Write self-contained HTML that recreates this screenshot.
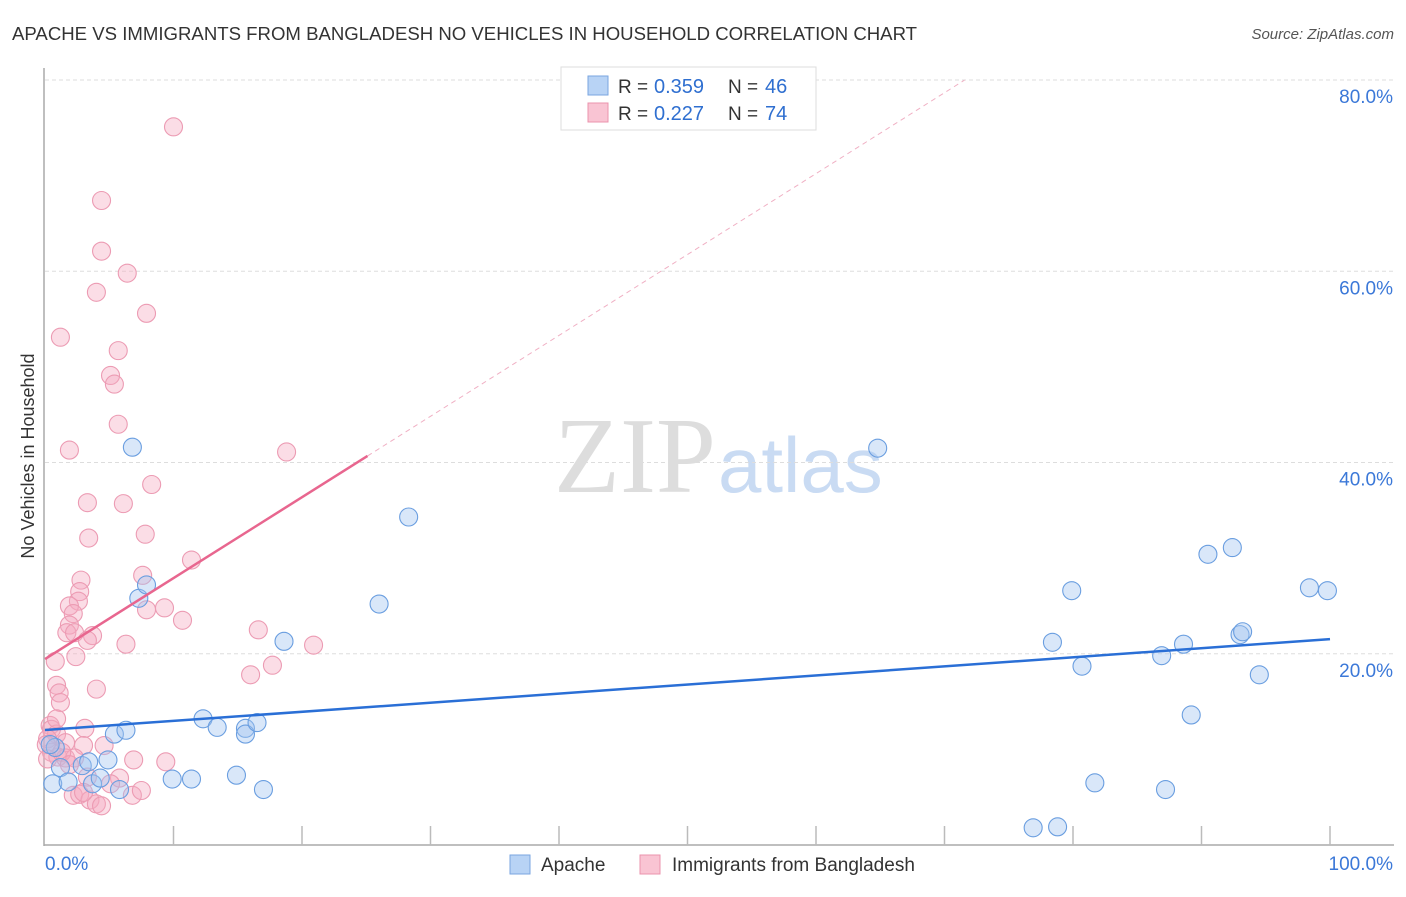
<!DOCTYPE html>
<html><head><meta charset="utf-8"><style>
body{margin:0;background:#fff;font-family:"Liberation Sans",sans-serif}
#c{position:relative;width:1406px;height:892px}
</style></head><body>
<div id="c">
<svg id="s" width="1406" height="892" xmlns="http://www.w3.org/2000/svg">
<text x="12" y="40" font-size="18.6" fill="#333">APACHE VS IMMIGRANTS FROM BANGLADESH NO VEHICLES IN HOUSEHOLD CORRELATION CHART</text>
<text x="1394" y="39" font-size="15" fill="#555" font-style="italic" text-anchor="end">Source: ZipAtlas.com</text>
<text x="0" y="0" transform="translate(34,456) rotate(-90)" font-size="18" fill="#333" text-anchor="middle">No Vehicles in Household</text>
<text x="716" y="492" font-size="108" font-family="Liberation Serif" fill="#ddd" text-anchor="end">ZIP</text>
<text x="718" y="492" font-size="78" fill="#c9dbf3">atlas</text>
<g id="grid"></g><g id="pts"></g><g id="lines"></g>
<rect x="561" y="67" width="255" height="63" fill="#fff" stroke="#ddd"/>
<rect x="588" y="76" width="20" height="19" fill="#b8d3f5" stroke="#7aa6e0"/>
<rect x="588" y="103" width="20" height="19" fill="#f9c4d3" stroke="#eb93ad"/>
<g font-size="19" fill="#333">
<text x="618" y="93">R = </text><text x="654" y="93" fill="#2f6fd0" font-size="20">0.359</text>
<text x="728" y="93">N = </text><text x="765" y="93" fill="#2f6fd0" font-size="20">46</text></g>
<g font-size="19" fill="#333">
<text x="618" y="120">R = </text><text x="654" y="120" fill="#2f6fd0" font-size="20">0.227</text>
<text x="728" y="120">N = </text><text x="765" y="120" fill="#2f6fd0" font-size="20">74</text></g>
<rect x="510" y="855" width="20" height="19" fill="#b8d3f5" stroke="#7aa6e0"/>
<text x="541" y="871" font-size="19" fill="#333">Apache</text>
<rect x="640" y="855" width="20" height="19" fill="#f9c4d3" stroke="#eb93ad"/>
<text x="672" y="871" font-size="19" fill="#333">Immigrants from Bangladesh</text>
</svg></div>
<script>
const yTicks=[20,40,60,80];
const yTickLabels=["20.0%","40.0%","60.0%","80.0%"];
const xTickLabels=["0.0%","100.0%"];
const apacheX=[0.6,1.2,0.8,1.8,2.9,3.4,3.7,4.3,4.9,5.4,6.3,5.8,7.3,7.9,6.8,9.9,11.4,12.3,13.4,14.9,15.6,15.6,16.5,17.0,18.6,26.0,28.3,64.8,76.9,78.8,78.4,79.9,80.7,81.7,86.9,87.2,88.6,89.2,90.5,92.4,93.0,93.2,94.5,98.4,99.8,0.4];
const apacheY=[6.4,8.1,10.2,6.6,8.3,8.7,6.4,7.0,8.9,11.6,12.0,5.8,25.8,27.2,41.6,6.9,6.9,13.2,12.3,7.3,12.2,11.6,12.8,5.8,21.3,25.2,34.3,41.5,1.8,1.9,21.2,26.6,18.7,6.5,19.8,5.8,21.0,13.6,30.4,31.1,22.0,22.3,17.8,26.9,26.6,10.5];
const bangX=[10.0,4.4,4.4,6.4,4.0,7.9,1.2,5.7,5.1,5.4,5.7,1.9,18.8,8.3,3.3,6.1,3.4,7.8,11.4,7.6,2.8,2.7,2.6,1.9,2.2,7.9,9.3,10.7,1.9,1.7,2.3,3.7,3.3,6.3,16.6,20.9,2.4,0.8,17.7,16.0,0.9,1.1,4.0,1.2,0.4,0.5,0.9,3.1,0.2,1.6,4.6,3.0,0.5,1.0,1.6,2.3,6.9,9.4,5.8,3.3,2.2,2.7,6.8,7.5,3.5,4.0,4.4,0.1,0.2,1.3,1.9,3.0,0.9,5.1];
const bangY=[75.1,67.4,62.1,59.8,57.8,55.6,53.1,51.7,49.1,48.2,44.0,41.3,41.1,37.7,35.8,35.7,32.1,32.5,29.8,28.2,27.7,26.5,25.5,25.0,24.2,24.6,24.8,23.5,23.0,22.2,22.2,21.9,21.4,21.0,22.5,20.9,19.7,19.2,18.8,17.8,16.7,15.9,16.3,14.9,12.5,12.1,11.6,12.2,11.1,10.7,10.4,10.4,9.7,9.2,9.1,9.1,8.9,8.7,7.0,7.1,5.2,5.3,5.2,5.7,4.7,4.3,4.1,10.5,9.0,9.7,8.4,5.5,13.2,6.4];
const apacheTrend=[12.03,21.53];
const bangTrend=[19.45,0.846,25.1];
const NS="http://www.w3.org/2000/svg";
const X=v=>45+v*12.85, Y=v=>845-v*9.5625;
function mk(t,a,p){const e=document.createElementNS(NS,t);for(const k in a)e.setAttribute(k,a[k]);p.appendChild(e);return e;}
const g=document.getElementById('grid');
let ax=mk('line',{x1:44,y1:68,x2:44,y2:846,stroke:'#aaa','stroke-width':1.5},g);


let bx=mk('line',{x1:44,y1:845,x2:1394,y2:845,stroke:'#aaa','stroke-width':1.5},g);


yTicks.forEach((t,i)=>{
 const l=mk('line',{x1:45,x2:1394,y1:Y(t),y2:Y(t),stroke:'#ddd','stroke-dasharray':'4,3'},g);
 
 
 const tx=mk('text',{x:1393,y:Y(t)+23,'font-size':19,fill:'#3b78d8','text-anchor':'end'},g);
 tx.textContent=yTickLabels[i];
 
 
});
for(let i=1;i<=10;i++){const l=mk('line',{x1:45+i*128.5,x2:45+i*128.5,y1:826,y2:845,stroke:'#bbb','stroke-width':1.5},g);
 
 }
[[45,'start'],[1393,'end']].forEach((p,i)=>{const tx=mk('text',{x:p[0],y:870,'font-size':19,fill:'#3b78d8','text-anchor':p[1]},g);tx.textContent=xTickLabels[i];
 
 });
const pg=document.getElementById('pts');
bangX.forEach((v,i)=>{const c=mk('circle',{cx:X(v),cy:Y(bangY[i]),r:9,fill:'rgba(245,170,192,0.4)',stroke:'#ec9bb3','stroke-width':1.1},pg);
 
 });
apacheX.forEach((v,i)=>{const c=mk('circle',{cx:X(v),cy:Y(apacheY[i]),r:9,fill:'rgba(160,195,240,0.4)',stroke:'#6a9ee0','stroke-width':1.1},pg);
 
 });
const lg=document.getElementById('lines');
let a=mk('line',{x1:X(0),y1:Y(apacheTrend[0]),x2:X(100),y2:Y(apacheTrend[1]),stroke:'#2a6fd6','stroke-width':2.5},lg);


const bf=v=>bangTrend[0]+bangTrend[1]*v;
let b=mk('line',{x1:X(0),y1:Y(bf(0)),x2:X(bangTrend[2]),y2:Y(bf(bangTrend[2])),stroke:'#e8668f','stroke-width':2.5},lg);


const xe=(80-bangTrend[0])/bangTrend[1];
let d=mk('line',{x1:X(bangTrend[2]),y1:Y(bf(bangTrend[2])),x2:X(xe),y2:Y(80),stroke:'#f0b0c4','stroke-width':1,'stroke-dasharray':'5,4'},lg);


</script>
</body></html>
